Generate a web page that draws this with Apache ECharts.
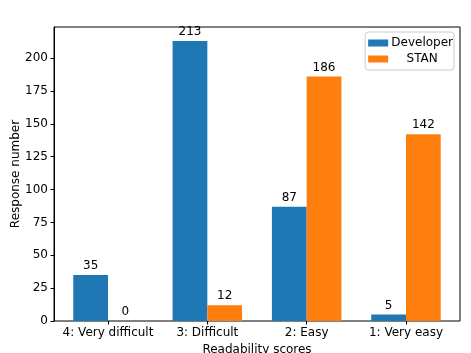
<!DOCTYPE html>
<html>
<head>
<meta charset="utf-8">
<script src="https://cdn.jsdelivr.net/npm/echarts@6/dist/echarts.min.js"></script>
<style>
  html, body { margin: 0; padding: 0; background: #fff; }
  #chart { width: 471px; height: 353px; }
</style>
</head>
<body>
<div id="chart"></div>
<script>
const categories = ['4: Very difficult', '3: Difficult', '2: Easy', '1: Very easy']
const developer = [35, 213, 87, 5]
const stan = [0, 12, 186, 142]
const yTicks = [0, 25, 50, 75, 100, 125, 150, 175, 200]
const yMax = 223.65

const font = 'DejaVu Sans'
const chart = echarts.init(document.getElementById('chart'))

function barSeries(name, data, color) {
  return {
    name,
    type: 'bar',
    xAxisIndex: 1,
    yAxisIndex: 1,
    data,
    barWidth: 34.75,
    barGap: '0%',
    itemStyle: { color },
    label: {
      show: true,
      position: 'top',
      distance: 3,
      color: '#000',
      fontFamily: font,
      fontSize: 12
    }
  }
}

chart.setOption({
  animation: false,
  backgroundColor: '#fff',
  textStyle: { fontFamily: font },
  legend: {
    orient: 'vertical',
    right: 17,
    top: 32,
    padding: [4, 1, 4, 3],
    itemGap: 2,
    itemWidth: 20,
    itemHeight: 7,
    borderColor: '#cccccc',
    borderWidth: 1,
    borderRadius: 3,
    icon: 'rect',
    formatter: '{c|{name}}',
    textStyle: {
      fontFamily: font,
      fontSize: 12,
      color: '#000',
      rich: { c: { width: 58, height: 14, align: 'center', fontFamily: font, fontSize: 12, lineHeight: 14 } }
    },
    data: ['Developer', 'STAN']
  },
  grid: [
    { left: 54, right: 11, top: 27, bottom: 32, outerBoundsMode: 'none', show: true, borderColor: '#000', borderWidth: 1, backgroundColor: 'transparent' },
    { left: 58.35, right: 15.35, top: 27, bottom: 32, outerBoundsMode: 'none' }
  ],
  xAxis: [
    { gridIndex: 0, type: 'value', show: false, min: 0, max: 1 },
    {
      gridIndex: 1,
      type: 'category',
      data: categories,
      axisLine: { show: false },
      axisTick: { show: true, alignWithLabel: true, length: 3.5, lineStyle: { color: '#000' } },
      axisLabel: { color: '#000', fontSize: 12, fontFamily: font, margin: 6, interval: 0 },
      name: 'Readability scores',
      nameLocation: 'middle',
      nameGap: 23,
      nameMoveOverlap: false,
      nameTextStyle: { color: '#000', fontSize: 12, fontFamily: font, verticalAlign: 'top' }
    }
  ],
  yAxis: [
    {
      gridIndex: 0,
      type: 'value',
      min: 0,
      max: yMax,
      splitLine: { show: false },
      axisLine: { show: true, lineStyle: { color: '#000' } },
      axisTick: { show: true, length: 3.5, lineStyle: { color: '#000' }, customValues: yTicks },
      axisLabel: { color: '#000', fontSize: 12, fontFamily: font, margin: 6, customValues: yTicks },
      name: 'Response number',
      nameLocation: 'middle',
      nameGap: 32,
      nameMoveOverlap: false,
      nameTextStyle: { color: '#000', fontSize: 12, fontFamily: font }
    },
    { gridIndex: 1, type: 'value', min: 0, max: yMax, show: false, splitLine: { show: false } }
  ],
  series: [
    barSeries('Developer', developer, '#1f77b4'),
    barSeries('STAN', stan, '#ff7f0e')
  ]
})
</script>
</body>
</html>
